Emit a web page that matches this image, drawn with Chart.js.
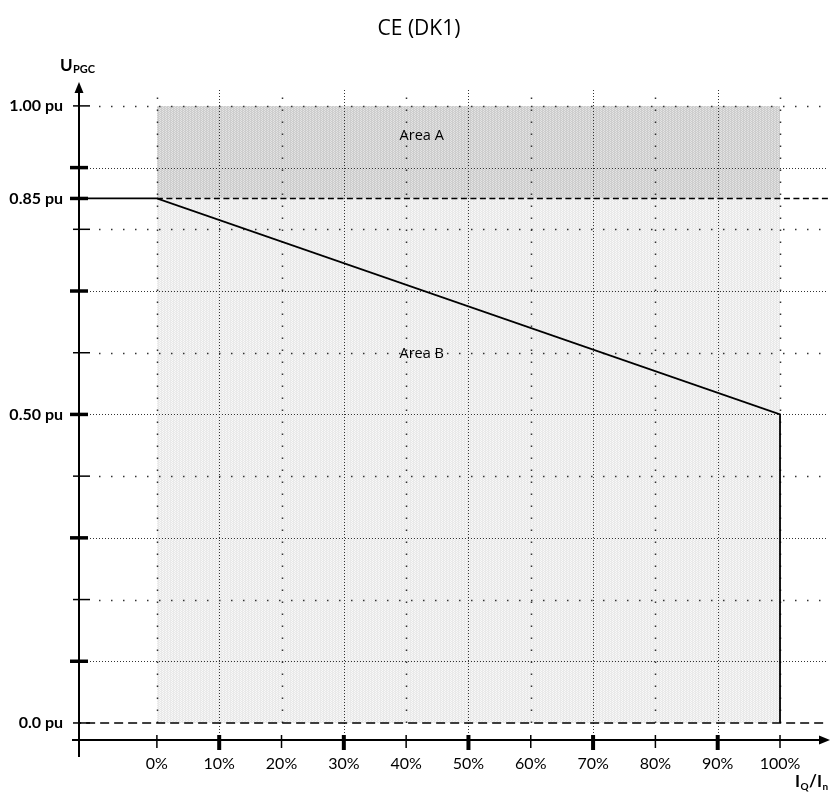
<!DOCTYPE html>
<html>
<head>
<meta charset="utf-8">
<script src="https://cdn.jsdelivr.net/npm/chart.js@4.4.1/dist/chart.umd.min.js"></script>
<style>
  html, body { margin: 0; padding: 0; background: #fff; }
  #wrap { width: 830px; height: 794px; position: relative; }
</style>
</head>
<body>
<div id="wrap"><canvas id="chart"></canvas></div>
<script>
// axis range (I_Q/I_n in %, U in pu)
const xMin = -12.5, xMax = 107.7;
const yMin = -0.0276, yMax = 1.029;

// ticks
const xTicks = [0, 10, 20, 30, 40, 50, 60, 70, 80, 90, 100];
const xLabels = ["0%", "10%", "20%", "30%", "40%", "50%", "60%", "70%", "80%", "90%", "100%"];
const xMajor = [10, 30, 50, 70, 90];
const yTicks = [0, 0.1, 0.2, 0.3, 0.4, 0.5, 0.6, 0.7, 0.8, 0.85, 0.9, 1.0];
const yMajor = [0.1, 0.3, 0.5, 0.7, 0.85, 0.9];
const yLabelValues = [1.0, 0.85, 0.5, 0.0];
const yLabels = ["1.00 pu", "0.85 pu", "0.50 pu", "0.0 pu"];

// characteristic curve
const curveX = [xMin, 0, 100, 100];
const curveY = [0.85, 0.85, 0.5, 0];

// areas
const areaX = [0, 100];
const areaATop = [1.0, 1.0];
const areaABase = 0.85;
const areaBTop = [0.85, 0.85];
const areaBBase = 0;

// dashed reference lines
const refLineX = [0, xMax];
const refLine85 = [0.85, 0.85];
const refLineZeroX = [-13.6, xMax];
const refLineZero = [0, 0];

const pts = (xs, ys) => xs.map((x, i) => ({ x, y: ys[i] }));

// small dotted texture like the original hatch fill
const makePattern = (a, b) => {
  const c = document.createElement("canvas");
  c.width = 3;
  c.height = 2;
  const g = c.getContext("2d");
  g.fillStyle = a;
  g.fillRect(0, 0, 3, 2);
  g.fillStyle = b;
  g.fillRect(1, 0, 1, 1);
  g.fillRect(0, 1, 1, 1);
  return g.createPattern(c, "repeat");
};

const dotted = (ctx, x1, y1, x2, y2, dash, color, lw) => {
  ctx.save();
  ctx.strokeStyle = color;
  ctx.lineWidth = lw;
  ctx.setLineDash(dash);
  ctx.beginPath();
  ctx.moveTo(x1, y1);
  ctx.lineTo(x2, y2);
  ctx.stroke();
  ctx.restore();
};

const drawGrid = (chart) => {
  const { ctx, scales: { x, y }, chartArea } = chart;
  const x0 = x.getPixelForValue(xMin);
  // horizontal
  yTicks.forEach((v) => {
    if (v === 0 || v === 0.85) return;
    const py = Math.round(y.getPixelForValue(v)) + 0.5;
    if (yMajor.includes(v)) {
      dotted(ctx, x0 + 8, py, chartArea.right, py, [1, 2], "#333", 1);
    } else {
      dotted(ctx, x0 + 20, py, chartArea.right, py, [1.5, 10.5], "#333", 1.5);
    }
  });
  // vertical
  xTicks.forEach((v) => {
    const px = Math.round(x.getPixelForValue(v)) + 0.5;
    const bottom = y.getPixelForValue(yMin);
    if (xMajor.includes(v)) {
      dotted(ctx, px, chartArea.top + 2, px, bottom, [1, 2], "#333", 1);
    } else {
      dotted(ctx, px, bottom - 17, px, chartArea.top + 5, [1.5, 10.5], "#333", 1.5);
    }
  });
};

const drawAxes = (chart) => {
  const { ctx, scales: { x, y }, chartArea } = chart;
  const ax = x.getPixelForValue(xMin);
  const ay = y.getPixelForValue(yMin);
  ctx.save();
  ctx.strokeStyle = "#000";
  ctx.fillStyle = "#000";
  ctx.setLineDash([]);
  ctx.lineWidth = 2;
  ctx.beginPath();
  ctx.moveTo(ax, ay + 17);
  ctx.lineTo(ax, chartArea.top);
  ctx.moveTo(ax - 7, ay);
  ctx.lineTo(chartArea.right - 4, ay);
  ctx.stroke();
  // arrows
  ctx.beginPath();
  ctx.moveTo(ax, chartArea.top - 6);
  ctx.lineTo(ax - 4.5, chartArea.top + 5);
  ctx.lineTo(ax + 4.5, chartArea.top + 5);
  ctx.closePath();
  ctx.fill();
  ctx.beginPath();
  ctx.moveTo(chartArea.right + 2, ay);
  ctx.lineTo(chartArea.right - 9, ay - 4.5);
  ctx.lineTo(chartArea.right - 9, ay + 4.5);
  ctx.closePath();
  ctx.fill();
  // y ticks
  yTicks.forEach((v) => {
    const py = y.getPixelForValue(v);
    const major = yMajor.includes(v);
    ctx.lineWidth = major ? 3.5 : 1.5;
    ctx.beginPath();
    ctx.moveTo(major ? ax - 9 : ax - 6, py);
    ctx.lineTo(major ? ax + 9 : ax + 11, py);
    ctx.stroke();
  });
  // x ticks
  xTicks.forEach((v) => {
    const px = x.getPixelForValue(v);
    const major = xMajor.includes(v);
    ctx.lineWidth = major ? 4 : 1.5;
    ctx.beginPath();
    ctx.moveTo(px, ay - 5);
    ctx.lineTo(px, major ? ay + 10 : ay + 8);
    ctx.stroke();
  });
  ctx.restore();
};

const drawText = (chart) => {
  const { ctx, scales: { x, y } } = chart;
  const ax = x.getPixelForValue(xMin);
  const ay = y.getPixelForValue(yMin);
  ctx.save();
  ctx.fillStyle = "#000";
  ctx.textBaseline = "middle";

  ctx.textAlign = "center";
  ctx.font = '21px "Open Sans"';
  ctx.fillText("CE (DK1)", 419, 29);

  ctx.font = "bold 16px Lato";
  ctx.textAlign = "right";
  yLabelValues.forEach((v, i) => {
    ctx.fillText(yLabels[i], ax - 16, y.getPixelForValue(v));
  });

  ctx.font = "16px Lato";
  ctx.textAlign = "center";
  xTicks.forEach((v, i) => {
    ctx.fillText(xLabels[i], x.getPixelForValue(v), ay + 24);
  });

  ctx.font = '14.5px "Open Sans"';
  ctx.fillText("Area A", x.getPixelForValue(42.5), y.getPixelForValue(0.951));
  ctx.fillText("Area B", x.getPixelForValue(42.5), y.getPixelForValue(0.598));

  // axis names
  ctx.textAlign = "left";
  ctx.textBaseline = "alphabetic";
  ctx.font = "bold 17px Lato";
  ctx.fillText("U", 60, 71);
  ctx.font = "bold 11px Lato";
  ctx.fillText("PGC", 73, 73);

  let tx = 795;
  const parts = [["I", 17, 787], ["Q", 10, 790], ["/I", 17, 787], ["n", 10, 790]];
  parts.forEach(([t, s, by]) => {
    ctx.font = `bold ${s}px Lato`;
    ctx.fillText(t, tx, by);
    tx += ctx.measureText(t).width + 0.5;
  });
  ctx.restore();
};

const decor = {
  id: "decor",
  afterDatasetDraw(chart, args) {
    if (args.index === 3) drawGrid(chart);
  },
  afterDraw(chart) {
    drawAxes(chart);
    drawText(chart);
  }
};

new Chart(document.getElementById("chart"), {
  type: "line",
  data: {
    datasets: [
      {
        data: pts(curveX, curveY),
        borderColor: "#000",
        borderWidth: 1.8,
        pointRadius: 0,
        fill: false,
        tension: 0
      },
      {
        data: pts(refLineX, refLine85),
        borderColor: "#000",
        borderWidth: 1.6,
        borderDash: [6, 3.5],
        pointRadius: 0,
        fill: false
      },
      {
        data: pts(refLineZeroX, refLineZero),
        borderColor: "#000",
        borderWidth: 1.4,
        borderDash: [9, 5],
        pointRadius: 0,
        fill: false
      },
      {
        data: pts(areaX, areaATop),
        borderWidth: 0,
        borderColor: "rgba(0,0,0,0)",
        backgroundColor: makePattern("#cdcdcd", "#e3e3e3"),
        pointRadius: 0,
        fill: { value: areaABase }
      },
      {
        data: pts(areaX, areaBTop),
        borderWidth: 0,
        borderColor: "rgba(0,0,0,0)",
        backgroundColor: makePattern("#e9e9e9", "#f8f8f8"),
        pointRadius: 0,
        fill: { value: areaBBase }
      }
    ]
  },
  options: {
    responsive: true,
    maintainAspectRatio: false,
    animation: false,
    layout: { padding: { left: 79, right: 2, top: 88, bottom: 54 } },
    plugins: { legend: { display: false }, tooltip: { enabled: false }, title: { display: false } },
    scales: {
      x: { type: "linear", display: false, min: xMin, max: xMax },
      y: { type: "linear", display: false, min: yMin, max: yMax }
    }
  },
  plugins: [decor]
});
</script>
</body>
</html>
